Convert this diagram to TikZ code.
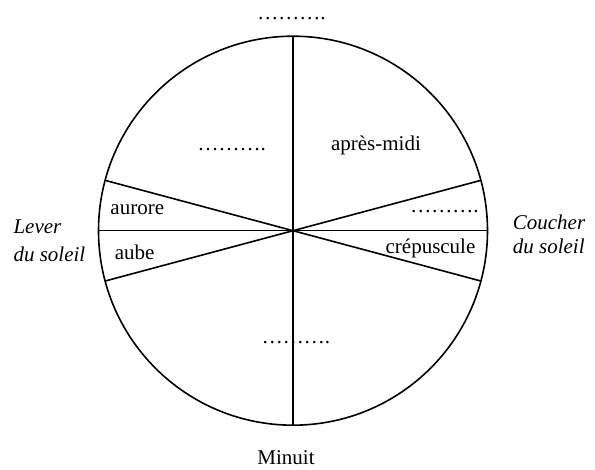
\documentclass[tikz,border=0pt]{standalone}
\usepackage{fontspec}
\setmainfont{Liberation Serif}
\usepackage{tikz}
\usepackage{xcolor}
\usetikzlibrary{positioning,calc}
\definecolor{InkBlack}{HTML}{000000}
\newcommand{\blank}{……….}
\newcommand{\daylabel}[3]{\node[lbl] (#1) at (#2) {#3};}
\tikzset{
  lbl/.style={anchor=base,inner sep=0pt,text=InkBlack,font=\fontsize{21}{25}\selectfont},
  side/.style={anchor=base west,inner sep=0pt,text=InkBlack,font=\fontsize{21}{25}\selectfont\itshape},
  rim/.style={draw=InkBlack,line width=1.6pt}
}

\begin{document}
\begin{tikzpicture}[x=1pt,y=1pt]
  \useasboundingbox (0,0) rectangle (595,470);
  \coordinate (O) at (293,239.3);
  % clock face and its spokes
  \draw[rim] (O) circle (194.5);
  \draw[rim] ($(O)+(90:194.5)$) -- ($(O)+(270:194.5)$);
  \draw[rim] ($(O)+(180:194.5)$) -- ($(O)+(0:194.5)$);
  \draw[rim] ($(O)+(165:194.5)$) -- ($(O)+(-15:194.5)$);
  \draw[rim] ($(O)+(195:194.5)$) -- ($(O)+(15:194.5)$);
  % sector labels
  \daylabel{midi}{291.4,450.5}{\blank}
  \daylabel{matin}{231.7,319.3}{\blank}
  \daylabel{apres}{376,319.3}{après-midi}
  \daylabel{aurore}{137.3,255}{aurore}
  \daylabel{aube}{134.7,210}{aube}
  \daylabel{soir}{444.5,257.7}{\blank}
  \daylabel{crep}{430.5,216.7}{crépuscule}
  \daylabel{nuit}{296,126.7}{\blank}
  \daylabel{minuit}{286,5}{Minuit}
  % sun rise and set
  \node[side] (lever) at (13.3,236.7) {Lever};
  \node[side] (leverb) at (13.3,208.3) {du soleil};
  \node[side] (coucher) at (512.7,240.7) {Coucher};
  \node[side] (coucherb) at (512.7,216) {du soleil};
\end{tikzpicture}
\end{document}
